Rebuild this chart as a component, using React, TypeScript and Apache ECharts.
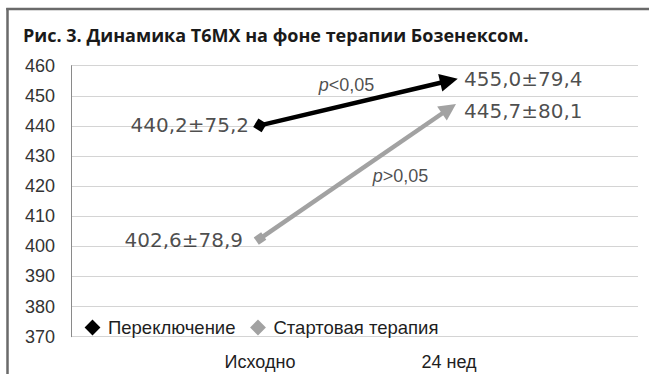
import React, { useEffect, useRef } from "react";
import * as echarts from "echarts";

const categories = ["Исходно", "24 нед"];
const seriesNames = ["Переключение", "Стартовая терапия"];
const switchMeans = [440.2, 455.0];
const switchSD = [75.2, 79.4];
const startMeans = [402.6, 445.7];
const startSD = [78.9, 80.1];
const pTexts = ["<0,05", ">0,05"];
const yMin = 370;
const yMax = 460;
const yStep = 10;
const titleText = "Рис. 3. Динамика Т6МХ на фоне терапии Бозенексом.";

const FONT = "'Liberation Sans', Arial, Helvetica, sans-serif";
const WIDE = "'DejaVu Sans', sans-serif";
const BLACK = "#000000";
const GRAY = "#a2a2a2";
const TEXT = "#1e1e1e";

const fmt = (v: number) => v.toFixed(1).replace(".", ",");

export default function App() {
  const ref = useRef<HTMLDivElement>(null);
  useEffect(() => {
    if (!ref.current) return;
    document.documentElement.style.overflow = "hidden";
    document.body.style.margin = "0";
    document.body.style.overflow = "hidden";
    const chart = echarts.init(ref.current, undefined, { renderer: "svg" });

    const xs = categories.map((_, i) => i + 1);
    const makeCoords = (vals: number[]) => vals.map((v, i) => [xs[i], v]);
    const mid = (vals: number[]) => [
      (xs[0] + xs[1]) / 2,
      (vals[0] + vals[1]) / 2,
    ];

    const valueLabels = [
      { v: switchMeans[0], sd: switchSD[0], x: xs[0], pos: "left", dist: 11, dy: 0 },
      { v: switchMeans[1], sd: switchSD[1], x: xs[1], pos: "right", dist: 15, dy: -2 },
      { v: startMeans[0], sd: startSD[0], x: xs[0], pos: "left", dist: 17, dy: 1 },
      { v: startMeans[1], sd: startSD[1], x: xs[1], pos: "right", dist: 15, dy: 2 },
    ];

    const option: any = {
      animation: false,
      backgroundColor: "#ffffff",
      title: {
        text: titleText,
        left: 18,
        top: 21,
        textStyle: {
          fontFamily: "'Open Sans', sans-serif",
          fontWeight: "bold",
          fontSize: 18,
          color: "#1a1a1a",
        },
      },
      graphic: [
        {
          type: "line",
          shape: { x1: 7.5, y1: 8, x2: 7.5, y2: 374 },
          style: { stroke: "#6a6a6a", lineWidth: 2.5 },
          silent: true,
        },
        {
          type: "line",
          shape: { x1: 6.25, y1: 9, x2: 649, y2: 9 },
          style: { stroke: "#6a6a6a", lineWidth: 2.5 },
          silent: true,
        },
      ],
      legend: {
        data: [
          { name: seriesNames[0], icon: "diamond", itemStyle: { color: BLACK } },
          { name: seriesNames[1], icon: "diamond", itemStyle: { color: GRAY } },
        ],
        left: 80,
        top: 313,
        itemWidth: 13,
        itemHeight: 13,
        itemGap: 15,
        textStyle: {
          fontFamily: FONT,
          fontSize: 18.5,
          color: TEXT,
          padding: [0, 0, 0, 4],
        },
      },
      grid: { left: 71, right: 11, top: 65.7, bottom: 37.3, containLabel: false },
      xAxis: {
        type: "value",
        min: 0,
        max: categories.length + 1,
        interval: 1,
        axisLine: { show: false },
        axisTick: { show: false },
        splitLine: { show: false },
        axisLabel: {
          margin: 16,
          fontFamily: FONT,
          fontSize: 18,
          color: TEXT,
          formatter: (v: number) => categories[v - 1] ?? "",
        },
      },
      yAxis: {
        type: "value",
        min: yMin,
        max: yMax,
        interval: yStep,
        axisLine: { show: true, lineStyle: { color: "#8a8a8a", width: 1 } },
        axisTick: { show: false },
        splitLine: { show: true, lineStyle: { color: "#d4d4d4", width: 1 } },
        axisLabel: {
          margin: 16,
          fontFamily: FONT,
          fontSize: 18,
          color: "#333333",
        },
      },
      series: [
        {
          name: seriesNames[1],
          type: "lines",
          coordinateSystem: "cartesian2d",
          polyline: false,
          symbol: ["rect", "triangle"],
          symbolSize: [9, 17],
          itemStyle: { color: GRAY },
          lineStyle: { color: GRAY, width: 4.5, opacity: 1, curveness: 0 },
          data: [{ coords: makeCoords(startMeans) }],
          z: 3,
        },
        {
          name: seriesNames[0],
          type: "lines",
          coordinateSystem: "cartesian2d",
          polyline: false,
          symbol: ["diamond", "triangle"],
          symbolSize: [14, 18],
          itemStyle: { color: BLACK },
          lineStyle: { color: BLACK, width: 4.5, opacity: 1, curveness: 0 },
          data: [{ coords: makeCoords(switchMeans) }],
          z: 4,
        },
        {
          name: "values",
          type: "scatter",
          silent: true,
          symbolSize: 0,
          z: 5,
          data: valueLabels.map((d) => ({
            value: [d.x, d.v],
            label: {
              show: true,
              position: d.pos,
              distance: d.dist,
              offset: [0, d.dy],
              formatter: `${fmt(d.v)}±${fmt(d.sd)}`,
              fontFamily: WIDE,
              fontSize: 20,
              color: TEXT,
            },
          })),
        },
        {
          name: "p",
          type: "scatter",
          silent: true,
          symbolSize: 0,
          z: 5,
          data: [
            { value: mid(switchMeans), off: [-8, -18], t: pTexts[0] },
            { value: mid(startMeans), off: [46, 2], t: pTexts[1] },
          ].map((d) => ({
            value: d.value,
            label: {
              show: true,
              position: "inside",
              offset: d.off,
              formatter: `{i|p}{n|${d.t}}`,
              rich: {
                i: { fontFamily: FONT, fontSize: 18, fontStyle: "italic", color: TEXT },
                n: { fontFamily: FONT, fontSize: 18, color: TEXT },
              },
            },
          })),
        },
      ],
    };
    chart.setOption(option);
    return () => chart.dispose();
  }, []);
  return (
    <div
      ref={ref}
      style={{
        position: "fixed",
        left: 0,
        top: 0,
        width: 649,
        height: 374,
        overflow: "hidden",
        background: "#fff",
      }}
    />
  );
}
